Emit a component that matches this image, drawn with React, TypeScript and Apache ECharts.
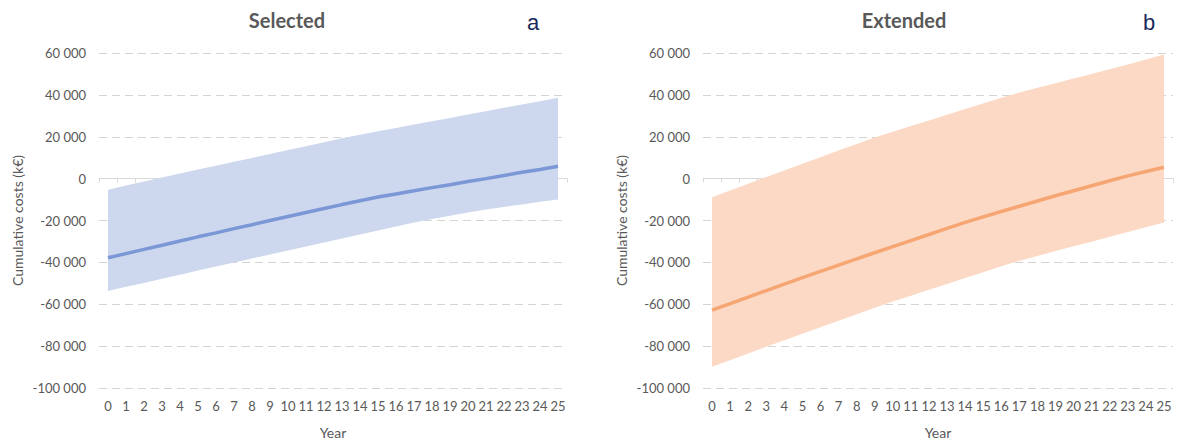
import React, { useEffect, useRef } from "react";
import * as echarts from "echarts";

const years = Array.from({ length: 26 }, (_, i) => String(i));

const selMean = [-37800, -35800, -33800, -31800, -29800, -27800, -25900, -23900, -22000, -20000, -18100, -16200, -14300, -12400, -10600, -8800, -7300, -5800, -4300, -2900, -1400, 0, 1500, 3000, 4400, 5900];
const selUpper = [-5300, -3300, -1400, 560, 2430, 4300, 6170, 8040, 9900, 11800, 13650, 15500, 17400, 19250, 21000, 22600, 24200, 25800, 27400, 29000, 30600, 32200, 33800, 35400, 37000, 38600];
const selLower = [-53700, -51700, -49800, -47800, -45900, -43900, -42000, -40000, -38100, -36200, -34300, -32400, -30500, -28600, -26700, -24800, -22900, -21000, -19300, -17700, -16200, -14800, -13500, -12300, -11100, -10000];

const extMean = [-62800, -59700, -56600, -53500, -50400, -47300, -44300, -41300, -38300, -35400, -32500, -29600, -26700, -23800, -20900, -18300, -15700, -13200, -10700, -8200, -5800, -3400, -1000, 1300, 3400, 5400];
const extUpper = [-8900, -5700, -2500, 790, 3940, 7090, 10240, 13390, 16540, 19690, 22400, 25100, 27800, 30500, 33200, 35900, 38600, 41100, 43400, 45600, 47800, 50000, 52200, 54500, 56900, 59300];
const extLower = [-89900, -86700, -83500, -80300, -77200, -74100, -71000, -67900, -64800, -61700, -58700, -55900, -53100, -50300, -47500, -44700, -41900, -39200, -36900, -34600, -32300, -30100, -27800, -25500, -23200, -21000];

const panelTitles = ["Selected", "Extended"];
const panelLetters = ["a", "b"];
const yAxisName = "Cumulative costs (k€)";
const xAxisName = "Year";

const FONT = "Lato, 'Open Sans', sans-serif";
const GREY = "#595959";

function fmt(v: number) {
  const s = Math.abs(v).toString();
  const withSp = s.replace(/\B(?=(\d{3})+(?!\d))/g, " ");
  return (v < 0 ? "-" : "") + withSp;
}

export default function App() {
  const ref = useRef<HTMLDivElement>(null);
  useEffect(() => {
    if (!ref.current) return;
    const chart = echarts.init(ref.current, undefined, { renderer: "svg" });
    const grids = [
      { left: 99, top: 53, width: 468, height: 339 },
      { left: 703, top: 53, width: 470, height: 339 },
    ];
    const panels = [
      { mean: selMean, upper: selUpper, lower: selLower, band: "#cdd8ef", line: "#7b97d6" },
      { mean: extMean, upper: extUpper, lower: extLower, band: "#fcd9c4", line: "#f6a673" },
    ];
    const xAxes = grids.map((_, i) => ({
      type: "category",
      gridIndex: i,
      data: years,
      boundaryGap: true,
      name: xAxisName,
      nameLocation: "middle",
      nameGap: 37,
      nameTextStyle: { color: GREY, fontFamily: FONT, fontSize: 14 },
      axisLine: { lineStyle: { color: "#d9d9d9", width: 1 } },
      axisTick: { show: true, length: 4, lineStyle: { color: "#d9d9d9" } },
      axisLabel: { interval: 0, color: GREY, fontFamily: FONT, fontSize: 13, margin: 11 },
      splitLine: { show: false },
    }));
    const yAxes = grids.map((_, i) => ({
      type: "value",
      gridIndex: i,
      min: -100000,
      max: 60000,
      interval: 20000,
      name: yAxisName,
      nameLocation: "middle",
      nameGap: 75,
      nameRotate: 90,
      nameTextStyle: { color: GREY, fontFamily: FONT, fontSize: 14 },
      axisLine: { show: false },
      axisTick: { show: false },
      axisLabel: { color: GREY, fontFamily: FONT, fontSize: 13, margin: 13, formatter: (v: number) => fmt(v) },
      splitLine: { show: true, lineStyle: { color: "#d4d4d4", type: [8, 5], width: 1.2 } },
    }));
    const series: any[] = [];
    panels.forEach((p, i) => {
      const stack = "band" + i;
      series.push({
        type: "line",
        xAxisIndex: i,
        yAxisIndex: i,
        data: p.lower,
        stack,
        stackStrategy: "all",
        symbol: "none",
        lineStyle: { opacity: 0 },
        silent: true,
      });
      series.push({
        type: "line",
        xAxisIndex: i,
        yAxisIndex: i,
        data: p.upper.map((u, k) => u - p.lower[k]),
        stack,
        stackStrategy: "all",
        symbol: "none",
        lineStyle: { opacity: 0 },
        areaStyle: { color: p.band, opacity: 1 },
        silent: true,
      });
      series.push({
        type: "line",
        xAxisIndex: i,
        yAxisIndex: i,
        data: p.mean,
        symbol: "none",
        lineStyle: { color: p.line, width: 3.5 },
        z: 5,
      });
    });
    const graphic: any[] = [];
    const titleX = [287, 904];
    const letterX = [533, 1149];
    panelTitles.forEach((t, i) => {
      graphic.push({
        type: "text",
        x: titleX[i],
        y: 20,
        style: {
          text: t,
          fill: GREY,
          font: `bold 20px ${FONT}`,
          textAlign: "center",
          textVerticalAlign: "middle",
        },
      });
      graphic.push({
        type: "text",
        x: letterX[i],
        y: 22,
        style: {
          text: panelLetters[i],
          fill: "#1b2a5c",
          font: `22px 'Liberation Sans', Arial, sans-serif`,
          textAlign: "center",
          textVerticalAlign: "middle",
        },
      });
    });
    chart.setOption({
      animation: false,
      backgroundColor: "#ffffff",
      grid: grids,
      xAxis: xAxes,
      yAxis: yAxes,
      series,
      graphic,
    });
    return () => chart.dispose();
  }, []);
  return (
    <div
      ref={ref}
      style={{ position: "absolute", left: 0, top: 0, width: 1178, height: 444 }}
    />
  );
}
